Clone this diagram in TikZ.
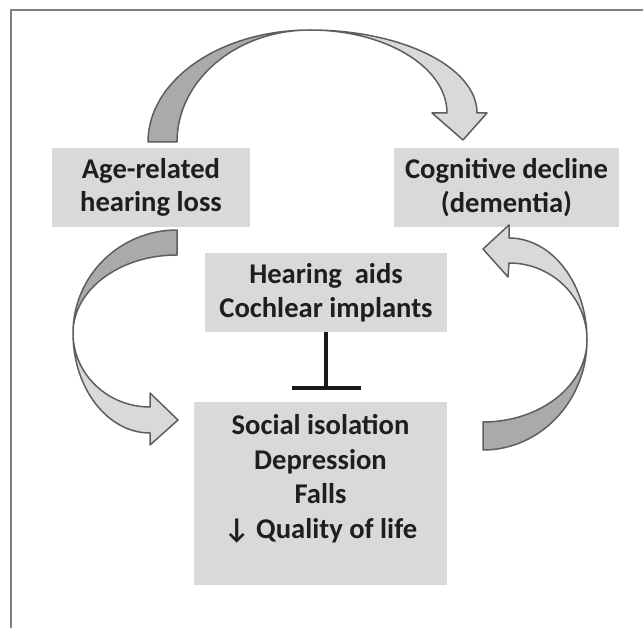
\documentclass[tikz,border=0pt]{standalone}
\usepackage{fontspec}
\setmainfont{Carlito}
\definecolor{boxgray}{HTML}{D9D9D9}
\definecolor{lightarr}{HTML}{D9D9D9}
\definecolor{darkarr}{HTML}{AAAAAA}
\definecolor{edgegray}{HTML}{5E5E5E}
\definecolor{framegray}{HTML}{808080}
\definecolor{txt}{HTML}{1E1E1E}
\tikzset{
  box/.style={fill=boxgray, draw=none, inner sep=0pt, align=center, text=txt,
    font=\fontsize{28.6}{33.5}\selectfont\bfseries},
  lbl/.style={inner sep=0pt, align=center, text=txt,
    font=\fontsize{28.6}{34.5}\selectfont\bfseries},
  arrdark/.style={fill=darkarr, draw=edgegray, line width=1.5pt, line join=round},
  arrlight/.style={fill=lightarr, draw=edgegray, line width=1.5pt, line join=round},
  frameline/.style={draw=framegray, line width=2pt},
  blocker/.style={draw=black!90, line width=4pt}
}
\begin{document}
\begin{tikzpicture}[x=1pt, y=-1pt]
\useasboundingbox (0,0) rectangle (643,628);
% frame
\draw[frameline] (11,628) -- (11,10) -- (643,10);

% boxes
\node[box, minimum width=198pt, minimum height=79pt] (age) at (151,187.5) {Age-related\\hearing loss};
\node[box, minimum width=225pt, minimum height=79pt] (cog) at (506.5,187.5) {Cognitive decline\\(dementia)};
\node[box, minimum width=242pt, minimum height=79pt] (hear) at (326,292.5) {Hearing~~aids\\Cochlear implants};
\node[box, minimum width=253pt, minimum height=183pt] (soc) at (320.5,493.5) {};
\node[lbl] (soctxt) at (320.5,479) {Social isolation\\Depression\\Falls\\↓ Quality of life};

% inhibition T-bar
\coordinate (tb) at (326,388);
\coordinate (tbl) at (292,388);
\coordinate (tbr) at (361,388);
\draw[blocker] (hear.south) -- (tb);
\draw[blocker] (tbl) -- (tbr);

% top arrow: age -> cognitive
\draw[arrdark] (148,142) .. controls (148,80.1) and (220.5,30) .. (310,30)
  .. controls (236.5,30) and (177,80.1) .. (177,142) -- cycle;
\draw[arrlight] (310,30) .. controls (402.2,30) and (477,67.2) .. (477,113)
  -- (487,113) -- (463,140) -- (432,113) -- (447,113)
  .. controls (447,67.2) and (385.7,30) .. (310,30) -- cycle;

% left arrow: age -> social
\draw[arrdark] (177,230) .. controls (119.6,230) and (73,276.1) .. (73,333)
  .. controls (73,289.9) and (119.6,255) .. (177,255) -- cycle;
\draw[arrlight] (73,333) .. controls (73,388.2) and (107.5,433) .. (150,433)
  -- (150,445) -- (178,420) -- (150,393) -- (150,407)
  .. controls (107.5,407) and (73,373.9) .. (73,333) -- cycle;

% right arrow: social -> cognitive
\draw[arrdark] (483,450) .. controls (540.4,450) and (587,400.8) .. (587,340)
  .. controls (587,385.3) and (540.4,422) .. (483,422) -- cycle;
\draw[arrlight] (587,340) .. controls (587,283.7) and (552.1,238) .. (509,238)
  -- (509,225) -- (483,249) -- (508,277) -- (509,263)
  .. controls (552.1,263) and (587,297.5) .. (587,340) -- cycle;
\end{tikzpicture}
\end{document}
